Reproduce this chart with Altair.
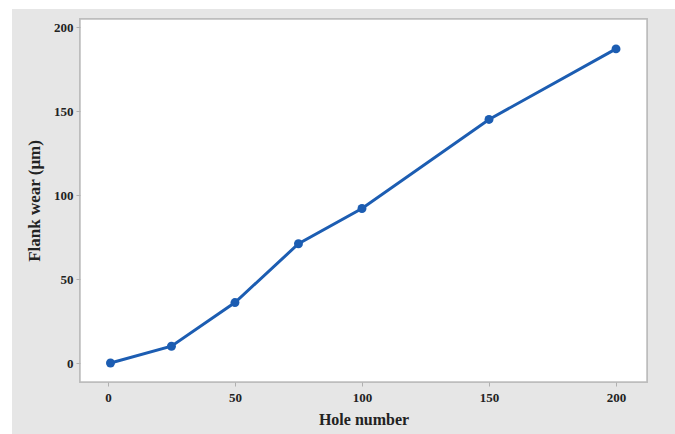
import altair as alt
import pandas as pd

# Flank wear measured against hole number
hole_number = [1, 25, 50, 75, 100, 150, 200]
flank_wear = [0, 10, 36, 71, 92, 145, 187]

x_ticks = [0, 50, 100, 150, 200]
y_ticks = [0, 50, 100, 150, 200]

df = pd.DataFrame({"hole": hole_number, "wear": flank_wear})

W, H = 567, 363
PAD_L, PAD_T, PAD_R, PAD_B = 80, 19, 28, 52
BG = "#e6e6e6"
LINE = "#1c5db2"
FONT = "Liberation Serif"

base = alt.Chart(df)

# grey panel behind the whole figure (leaves a thin white strip top/left)
panel = base.mark_rect(color=BG).encode(
    x=alt.value(12 - PAD_L), x2=alt.value(W + PAD_R),
    y=alt.value(9 - PAD_T), y2=alt.value(H + PAD_B),
)

# white plotting area with a light frame
frame = base.mark_rect(fill="white", stroke="#bdbdbd", strokeWidth=1.5).encode(
    x=alt.value(0), x2=alt.value(W), y=alt.value(0), y2=alt.value(H),
)

x_enc = alt.X(
    "hole:Q",
    title="Hole number",
    scale=alt.Scale(domain=[-11, 212.2], nice=False, zero=False),
    axis=alt.Axis(values=x_ticks, format="d", grid=False, domain=False,
                  tickSize=4, tickColor="#b0b0b0", labelPadding=5,
                  titlePadding=7, titleFontSize=16, zindex=2),
)
y_enc = alt.Y(
    "wear:Q",
    title="Flank wear (μm)",
    scale=alt.Scale(domain=[-11.3, 204.8], nice=False, zero=False),
    axis=alt.Axis(values=y_ticks, format="d", grid=False, domain=False,
                  tickSize=4, tickColor="#b0b0b0", labelPadding=3,
                  titlePadding=10, titleFontSize=17, zindex=2),
)

line = base.mark_line(color=LINE, strokeWidth=3).encode(x=x_enc, y=y_enc)
points = base.mark_circle(color=LINE, size=80, opacity=1).encode(x=x_enc, y=y_enc)

chart = (
    alt.layer(panel, frame, line, points)
    .properties(
        width=W, height=H,
        autosize=alt.AutoSizeParams(type="none"),
        padding={"left": PAD_L, "top": PAD_T, "right": PAD_R, "bottom": PAD_B},
    )
    .configure(background="white")
    .configure_view(stroke=None)
    .configure_axis(
        labelFont=FONT, labelFontSize=13, labelFontWeight="bold",
        labelColor="#222222",
        titleFont=FONT, titleFontWeight="bold",
        titleColor="#222222",
    )
)

chart.save("out.html", embed_options={"renderer": "svg", "actions": False})
